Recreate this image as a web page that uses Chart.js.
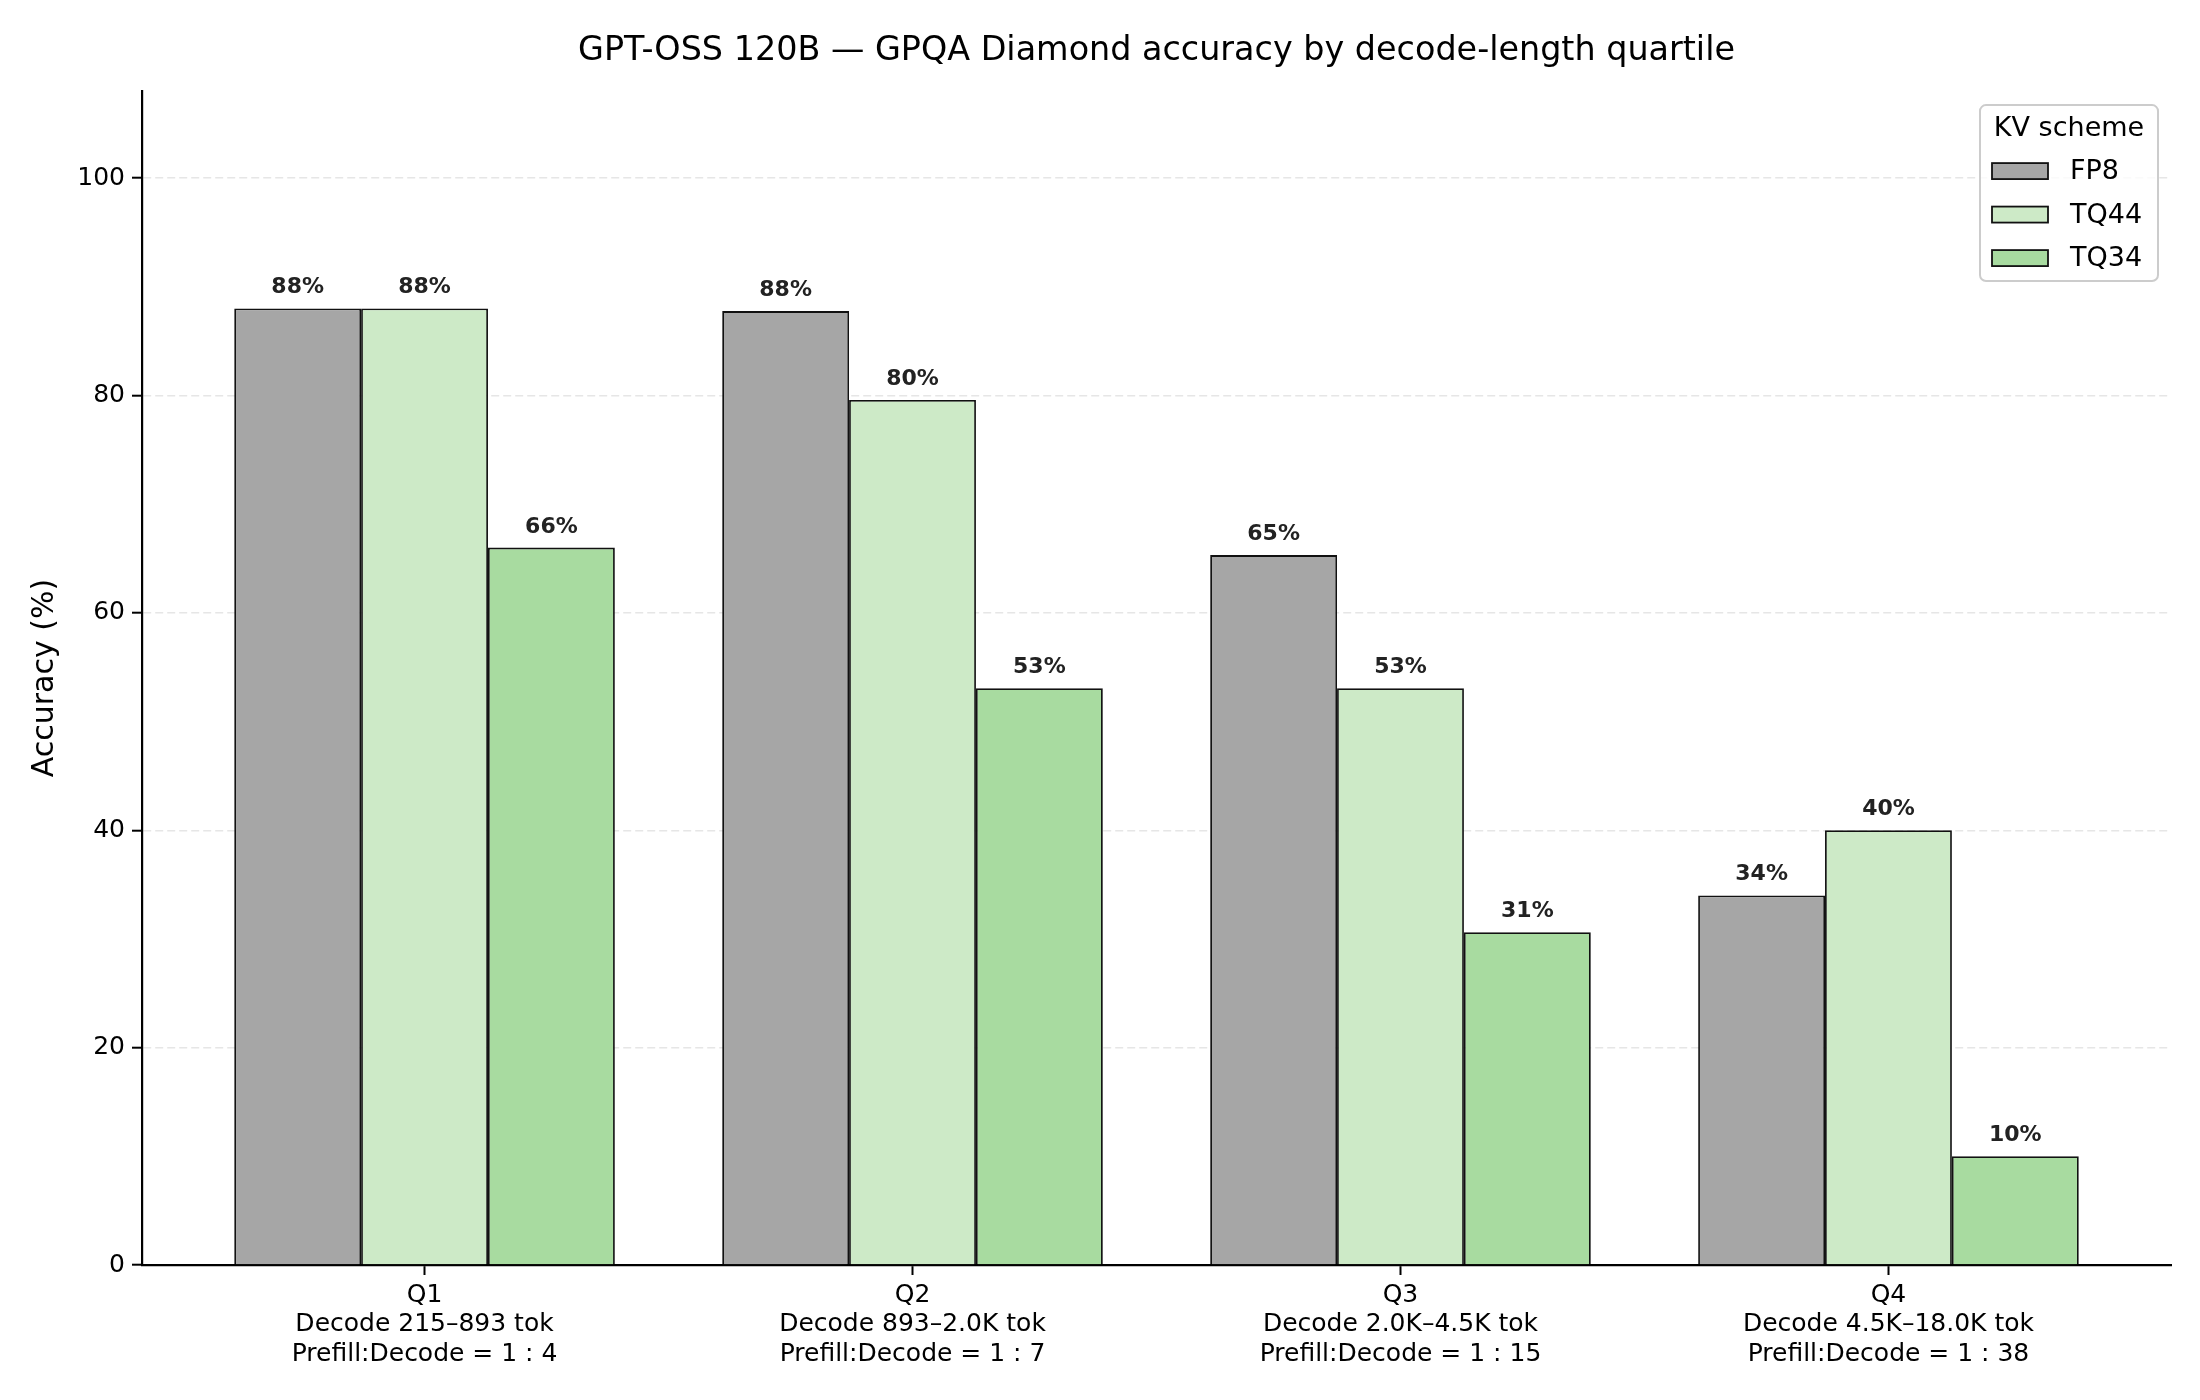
<!DOCTYPE html>
<html>
<head>
<meta charset="utf-8">
<script src="https://cdn.jsdelivr.net/npm/chart.js@4.4.1/dist/chart.umd.min.js"></script>
<style>
  html, body { margin: 0; padding: 0; background: #fff; }
  #wrap { width: 2200px; height: 1400px; }
</style>
</head>
<body>
<div id="wrap"><canvas id="chart" width="2200" height="1400"></canvas></div>
<script>
// --- DATA --- //
const quartiles = ['Q1', 'Q2', 'Q3', 'Q4']
const decodeRanges = ['Decode 215–893 tok', 'Decode 893–2.0K tok', 'Decode 2.0K–4.5K tok', 'Decode 4.5K–18.0K tok']
const ratios = ['Prefill:Decode = 1 : 4', 'Prefill:Decode = 1 : 7', 'Prefill:Decode = 1 : 15', 'Prefill:Decode = 1 : 38']

const schemes = ['FP8', 'TQ44', 'TQ34']
const fp8 = [88.0, 87.76, 65.31, 34.0]
const tq44 = [88.0, 79.59, 53.06, 40.0]
const tq34 = [66.0, 53.06, 30.61, 10.0]

const yTicks = [0, 20, 40, 60, 80, 100]

// --- STYLE --- //
const FONT = "'DejaVu Sans', 'Liberation Sans', sans-serif"
const colors = ['#a6a6a6', '#cdeac7', '#a8dba0']
const seriesValues = [fp8, tq44, tq34]

const datasets = schemes.map((name, s) => ({
  label: name,
  data: seriesValues[s].map((v, i) => ({ x: i, y: v })),
  backgroundColor: colors[s],
  borderColor: '#111',
  borderWidth: 1.8,
  borderSkipped: 'bottom',
  barPercentage: 1,
  categoryPercentage: 0.78
}))

// value labels above each bar
const barLabels = {
  id: 'barLabels',
  afterDatasetsDraw: chart => {
    const ctx = chart.ctx
    ctx.save()
    ctx.font = `bold 22px ${FONT}`
    ctx.fillStyle = '#222'
    ctx.textAlign = 'center'
    ctx.textBaseline = 'alphabetic'
    chart.data.datasets.forEach((ds, di) => {
      chart.getDatasetMeta(di).data.forEach((bar, i) => {
        const v = ds.data[i].y
        ctx.fillText(`${Math.round(v)}%`, bar.x, bar.y - 15)
      })
    })
    ctx.restore()
  }
}

// legend box in the upper right corner
const kvLegend = {
  id: 'kvLegend',
  afterDraw: chart => {
    const ctx = chart.ctx
    const area = chart.chartArea
    const w = 178
    const h = 176
    const x = area.right - 13 - w
    const y = area.top + 14
    ctx.save()
    ctx.beginPath()
    ctx.roundRect(x, y, w, h, 6)
    ctx.fillStyle = 'rgba(255,255,255,0.8)'
    ctx.fill()
    ctx.strokeStyle = '#cccccc'
    ctx.lineWidth = 2
    ctx.stroke()

    ctx.fillStyle = '#000'
    ctx.font = `27px ${FONT}`
    ctx.textAlign = 'center'
    ctx.textBaseline = 'middle'
    ctx.fillText('KV scheme', x + w / 2, y + 24)

    ctx.textAlign = 'left'
    chart.data.datasets.forEach((ds, i) => {
      const cy = y + 66 + i * 43.5
      ctx.fillStyle = ds.backgroundColor
      ctx.fillRect(x + 12, cy - 8, 56, 16)
      ctx.strokeStyle = '#111'
      ctx.lineWidth = 1.8
      ctx.strokeRect(x + 12, cy - 8, 56, 16)
      ctx.fillStyle = '#000'
      ctx.fillText(ds.label, x + 90, cy + 1)
    })
    ctx.restore()
  }
}

const config = {
  type: 'bar',
  data: { datasets },
  options: {
    responsive: false,
    animation: false,
    layout: { padding: { left: 0, right: 29, top: 0, bottom: 0 } },
    scales: {
      x: {
        type: 'linear',
        min: -0.579,
        max: 3.579,
        offset: false,
        afterBuildTicks: scale => {
          scale.ticks = quartiles.map((q, i) => ({ value: i }))
        },
        afterFit: scale => { scale.height = 135 },
        ticks: {
          autoSkip: false,
          maxRotation: 0,
          padding: 6,
          color: '#000',
          font: { family: FONT, size: 25, lineHeight: 1.17 },
          callback: v => [quartiles[v], decodeRanges[v], ratios[v]]
        },
        grid: {
          offset: false,
          drawOnChartArea: false,
          drawTicks: true,
          tickLength: 10,
          tickColor: '#000',
          tickWidth: 2
        },
        border: { display: true, color: '#000', width: 2.2 }
      },
      y: {
        min: 0,
        max: 108,
        afterBuildTicks: scale => {
          scale.ticks = yTicks.map(v => ({ value: v }))
        },
        afterFit: scale => { scale.width = 142 },
        ticks: {
          padding: 7,
          color: '#000',
          font: { family: FONT, size: 25 }
        },
        grid: {
          color: '#e6e6e6',
          lineWidth: 1.4,
          tickLength: 10,
          tickColor: '#000',
          tickWidth: 2,
          tickBorderDash: []
        },
        border: { display: true, color: '#000', width: 2.2, dash: [8, 4] },
        title: {
          display: true,
          text: 'Accuracy (%)',
          color: '#000',
          font: { family: FONT, size: 30 },
          padding: { top: 27, bottom: 8 }
        }
      }
    },
    plugins: {
      legend: { display: false },
      tooltip: { enabled: false },
      title: {
        display: true,
        fullSize: false,
        text: 'GPT-OSS 120B — GPQA Diamond accuracy by decode-length quartile',
        color: '#000',
        font: { family: FONT, size: 33.4, weight: 'normal' },
        padding: { top: 31, bottom: 20 }
      }
    }
  },
  plugins: [barLabels, kvLegend]
}

const chart = new Chart(document.getElementById('chart'), config)
</script>
</body>
</html>
